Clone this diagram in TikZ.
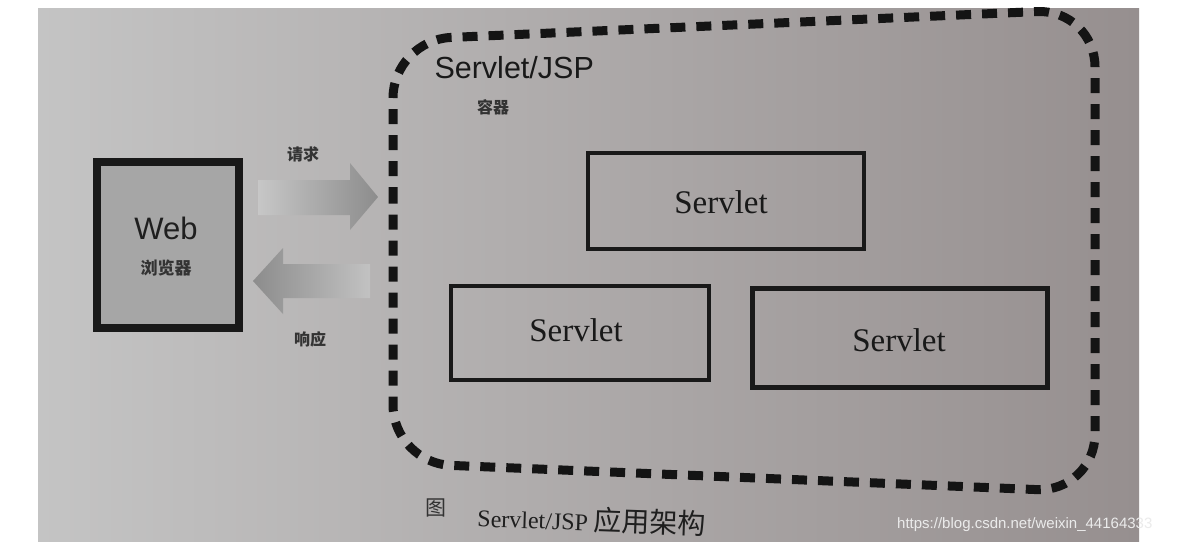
\documentclass[tikz,border=0pt]{standalone}
\usepackage{fontspec}
\setmainfont{Liberation Serif}
\setsansfont{Liberation Sans}
\newfontfamily\cjk{Noto Sans CJK SC}
\begin{document}
\begin{tikzpicture}[x=1pt,y=-1pt,
  servletbox/.style={draw=black!90, line width=4.5pt, inner sep=0pt},
  servlettext/.style={font=\fontsize{33}{36}\selectfont\rmfamily, text=black!90},
  cjklabel/.style={font=\fontsize{16}{18}\selectfont\cjk\bfseries, text=black!80},
  arrowshape/.style={draw=none}]
\useasboundingbox (0,0) rectangle (1178,544);
\fill[white] (0,0) rectangle (1178,544);
% photo background
\shade[left color={rgb,255:red,196;green,196;blue,196}, middle color={rgb,255:red,180;green,179;blue,179}, right color={rgb,255:red,150;green,143;blue,143}] (38,8) rectangle (1139,541);
% web browser box
\node[draw=black!90, line width=8pt, fill=black!35, minimum width=142pt, minimum height=166pt, inner sep=0pt] (web) at (168,245) {};
\node[font=\fontsize{31}{34}\selectfont\sffamily, text=black!88] (webtxt) at (166,228) {Web};
\node[cjklabel, font=\fontsize{17}{19}\selectfont\cjk\bfseries] (browser) at (166,268) {浏览器};
% request arrow
\shade[arrowshape, left color=black!22, right color=black!45]
  (258,180) -- (350,180) -- (350,163) -- (378,197) -- (350,230) -- (350,215) -- (258,215) -- cycle;
\node[cjklabel] (req) at (303,154) {请求};
% response arrow
\shade[arrowshape, left color=black!45, right color=black!24]
  (253,281) -- (283,248) -- (283,264) -- (370,264) -- (370,298) -- (283,298) -- (283,314) -- cycle;
\node[cjklabel] (resp) at (310,339) {响应};
% container
\draw[line width=9pt, black!92, dash pattern=on 15pt off 11pt, rounded corners=58pt]
  (393,260) -- (393,40) -- (1095,9) -- (1095,492) -- (393,463) -- cycle;
\node[font=\fontsize{30.5}{33}\selectfont\sffamily, text=black!90, anchor=base west] (jsp) at (431,78) {Servlet/JSP};
\node[cjklabel] (container) at (493,107) {容器};
% servlets
\node[servletbox, minimum width=276pt, minimum height=96pt] (s1) at (726,201) {};
\node[servlettext] (s1t) at (721,202) {Servlet};
\node[servletbox, minimum width=258pt, minimum height=94pt] (s2) at (580,333) {};
\node[servlettext] (s2t) at (576,330) {Servlet};
\node[servletbox, minimum width=295pt, minimum height=99pt] (s3) at (900,338) {};
\node[servlettext] (s3t) at (899,340) {Servlet};
% caption
\node[font=\fontsize{21}{23}\selectfont\cjk, text=black!80] (fig) at (436,508) {图};
\node[anchor=west, text=black!88, rotate=-2] (cap) at (474,516) {\fontsize{24}{26}\selectfont Servlet/JSP {\cjk\fontsize{28}{30}\selectfont 应用架构}};
% watermark
\node[anchor=west, font=\fontsize{15}{17}\selectfont\sffamily, text=black!8, inner sep=0pt] (wm) at (897,525) {https://blog.csdn.net/weixin\_44164333};
\end{tikzpicture}
\end{document}
